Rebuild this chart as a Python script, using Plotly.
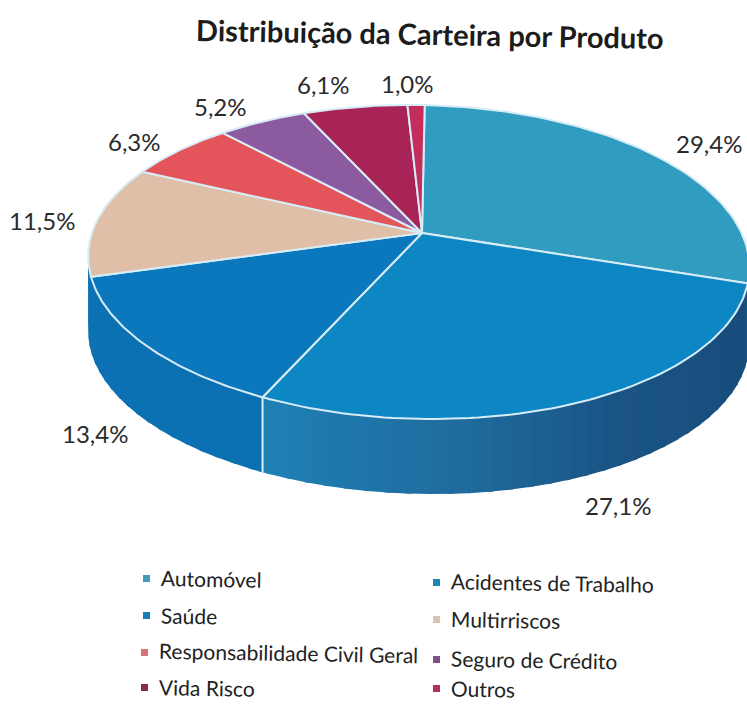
import numpy as np
import plotly.graph_objects as go

categories = ["Automóvel", "Acidentes de Trabalho", "Saúde", "Multirriscos",
              "Responsabilidade Civil Geral", "Seguro de Crédito", "Vida Risco", "Outros"]
shares = [29.4, 27.1, 13.4, 11.5, 6.3, 5.2, 6.1, 1.0]
title = "Distribuição da Carteira por Produto"

top_colors = ["#2F9CC0", "#0C87C3", "#0B78BD", "#E0BFA8", "#E3555A", "#8C5A9E", "#A82456", "#C32E5E"]
legend_colors = ["#3F9DB8", "#1C86B8", "#1A7FB0", "#D8C4B4", "#DD6F78", "#7D4F8C", "#8E2A50", "#B03060"]
label_pos = [(709, 143), (618, 505), (95, 433), (42, 220), (134, 141), (220, 106), (323, 84), (407, 83)]
legend_pos = [(161, 578), (451, 582), (161, 615), (451, 619), (159, 652), (451, 659), (159, 687), (451, 688)]

CX, CY, A, B, K, DEPTH, TILT = 422, 233, 325, 151.6, 0.185, 75, np.radians(1.2)
SEP = "#D8ECF6"


def rim(theta_deg):
    t = np.radians(theta_deg)
    u, v = np.sin(t), np.cos(t)
    w = 1 + K * v
    dx = A * (1 - 0.008 * u) * u / w
    dy = -B * v / w
    return CX + dx * np.cos(TILT) - dy * np.sin(TILT), CY + dx * np.sin(TILT) + dy * np.cos(TILT)


def mix(c1, c2, f):
    a = [int(c1[i:i + 2], 16) for i in (1, 3, 5)]
    b = [int(c2[i:i + 2], 16) for i in (1, 3, 5)]
    return "rgb(%d,%d,%d)" % tuple(round(x + (y - x) * f) for x, y in zip(a, b))


def wall_color(theta):
    stops = [(95, "#1C6596"), (112, "#174C7B"), (150, "#1A5485"), (175, "#1F6C9F"), (203, "#1F80B5"),
             (203.01, "#0B70B0"), (262, "#0C72B4")]
    for (t0, c0), (t1, c1) in zip(stops, stops[1:]):
        if t0 <= theta <= t1:
            return mix(c0, c1, (theta - t0) / (t1 - t0))
    return stops[-1][1]


edges = np.concatenate([[0], np.cumsum(shares)]) / sum(shares) * 360
fig = go.Figure()

# side wall of the pie, following the slices' own edges
wall_breaks = sorted({95.0, 262.0, float(edges[2])} | set(np.arange(97.0, 262.0, 3.0).tolist()))
for t0, t1 in zip(wall_breaks, wall_breaks[1:]):
    ts = np.linspace(t0, t1 + 0.8, 5)
    x, y = rim(ts)
    fig.add_trace(go.Scatter(x=np.r_[x, x[::-1]], y=np.r_[y, y[::-1] + DEPTH], mode="lines", fill="toself",
                             fillcolor=wall_color((t0 + t1) / 2), line=dict(width=0),
                             hoverinfo="skip", showlegend=False))

# white seam on the wall between the two front slices
sx, sy = rim(edges[2])
fig.add_trace(go.Scatter(x=[sx, sx], y=[sy, sy + DEPTH], mode="lines", line=dict(color=SEP, width=2),
                         hoverinfo="skip", showlegend=False))

# top faces
for i, cat in enumerate(categories):
    ts = np.linspace(edges[i], edges[i + 1], 80)
    x, y = rim(ts)
    fig.add_trace(go.Scatter(x=np.r_[CX, x, CX], y=np.r_[CY, y, CY], mode="lines", fill="toself",
                             fillcolor=top_colors[i], line=dict(color=SEP, width=2),
                             name=cat, hoveron="fills", text=f"{cat}: {shares[i]}%", hoverinfo="text",
                             showlegend=False))

annotations = [dict(x=430, y=33, text=f"<b>{title}</b>", showarrow=False, textangle=1,
                    font=dict(family="Lato", size=29, color="#1c1c1c"))]
for v, (x, y) in zip(shares, label_pos):
    annotations.append(dict(x=x, y=y, text=f"{v:.1f}%".replace(".", ","), showarrow=False,
                            font=dict(family="Lato", size=24, color="#2a2a2a")))
shapes = []
for cat, col, (x, y) in zip(categories, legend_colors, legend_pos):
    annotations.append(dict(x=x - 2, y=y, text=cat, showarrow=False, xanchor="left", textangle=1,
                            font=dict(family="Lato", size=21, color="#222222")))
    shapes.append(dict(type="rect", x0=x - 18, x1=x - 11, y0=y - 3, y1=y + 4, fillcolor=col, line=dict(width=0)))

fig.update_layout(width=747, height=704, margin=dict(l=0, r=0, t=0, b=0), paper_bgcolor="white",
                  plot_bgcolor="white", showlegend=False, annotations=annotations, shapes=shapes,
                  xaxis=dict(range=[0, 747], visible=False, fixedrange=True),
                  yaxis=dict(range=[704, 0], visible=False, fixedrange=True))
fig.write_html("out.html", config={"displayModeBar": False},
               post_script="document.body.style.margin='0';document.body.style.overflow='hidden';")
